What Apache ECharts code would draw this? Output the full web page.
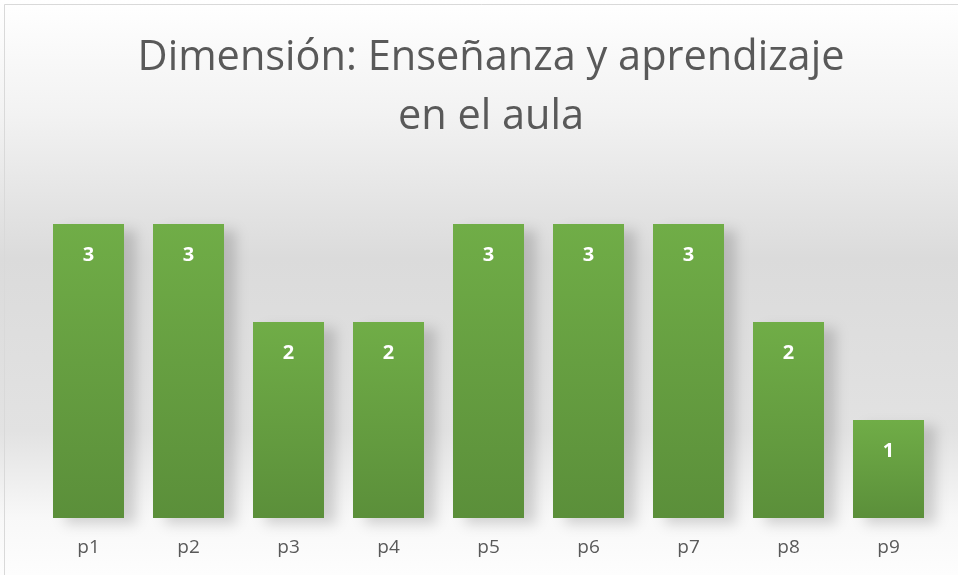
<!DOCTYPE html>
<html>
<head>
<meta charset="utf-8">
<script src="https://cdn.jsdelivr.net/npm/echarts@6/dist/echarts.min.js"></script>
<style>
html,body{margin:0;padding:0;background:#fff;}
#c{width:958px;height:575px;}
</style>
</head>
<body>
<div id="c"></div>
<script>
var titleText = 'Dimensión: Enseñanza y aprendizaje\nen el aula';
var categories = ['p1','p2','p3','p4','p5','p6','p7','p8','p9'];
var values = [3,3,2,2,3,3,3,2,1];

var chart = echarts.init(document.getElementById('c'));
chart.setOption({
  animation: false,
  backgroundColor: {
    type: 'linear', x: 0, y: 0, x2: 0, y2: 1,
    colorStops: [
      {offset: 0, color: '#ffffff'},
      {offset: 0.2, color: '#f2f2f2'},
      {offset: 0.45, color: '#dbdbdb'},
      {offset: 0.75, color: '#e2e2e2'},
      {offset: 0.9, color: '#f8f8f8'},
      {offset: 1, color: '#fdfdfd'}
    ]
  },
  graphic: [{
    type: 'rect', silent: true, z: 100,
    shape: {x: 4.5, y: 4.5, width: 1000, height: 1000},
    style: {fill: 'none', stroke: '#d9d9d9', lineWidth: 1}
  }],
  title: {
    text: titleText,
    left: 486, top: 24,
    textAlign: 'center',
    textStyle: {
      fontFamily: 'Open Sans', fontWeight: 'normal',
      fontSize: 41.5, color: '#595959', lineHeight: 59
    }
  },
  grid: {left: 38.5, right: 19.5, top: 224, bottom: 57, containLabel: false},
  xAxis: {
    type: 'category', data: categories,
    axisLine: {show: false}, axisTick: {show: false},
    axisLabel: {color: '#595959', fontSize: 19, fontFamily: 'Open Sans', margin: 20}
  },
  yAxis: {
    type: 'value', min: 0, max: 3, interval: 1,
    show: false, splitLine: {show: false}
  },
  series: [{
    type: 'bar', data: values,
    barCategoryGap: '29%',
    itemStyle: {
      color: {
        type: 'linear', x: 0, y: 0, x2: 0, y2: 1,
        colorStops: [{offset: 0, color: '#70ad47'}, {offset: 1, color: '#5b8f3a'}]
      },
      shadowColor: 'rgba(0,0,0,0.16)', shadowBlur: 12, shadowOffsetX: 12, shadowOffsetY: 6
    },
    label: {
      show: true, position: 'insideTop', distance: 21,
      color: '#ffffff', fontWeight: 'bold', fontSize: 20, fontFamily: 'Open Sans'
    }
  }]
});
</script>
</body>
</html>
